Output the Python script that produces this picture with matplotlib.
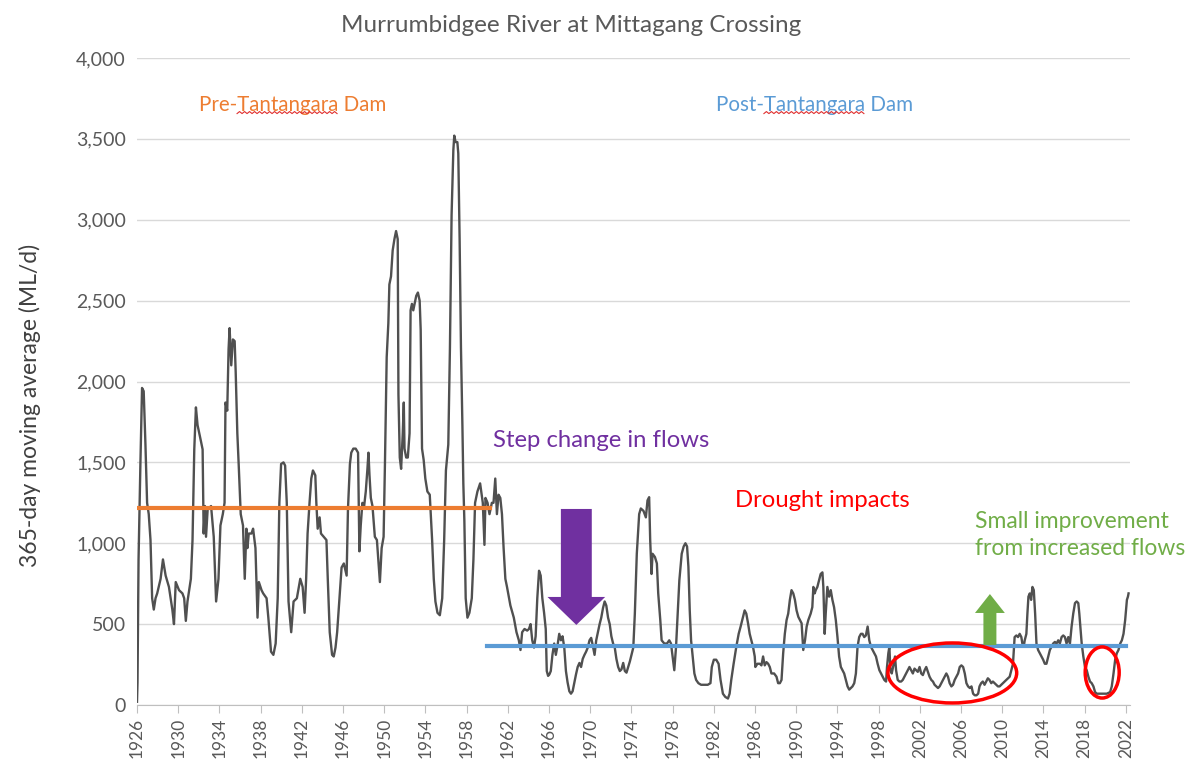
import matplotlib.pyplot as plt
from matplotlib.patches import Ellipse, FancyArrow
from matplotlib.lines import Line2D
from matplotlib.transforms import IdentityTransform
import numpy as np

plt.rcParams['font.family'] = ['Lato', 'DejaVu Sans']

# 365-day moving average flow (ML/d) as (year, value)
flow_1926_1942 = [
    (1926.00, 20), (1926.05, 140), (1926.15, 900), (1926.33, 1490), (1926.49, 1960),
    (1926.65, 1940), (1926.82, 1610), (1926.98, 1250), (1927.14, 1180), (1927.31, 1020),
    (1927.47, 660), (1927.63, 590), (1927.80, 660), (1927.96, 690), (1928.29, 780),
    (1928.52, 900), (1928.78, 800), (1929.10, 730), (1929.43, 590), (1929.59, 500),
    (1929.76, 760), (1930.08, 710), (1930.41, 690), (1930.58, 660), (1930.74, 520),
    (1930.90, 640), (1931.23, 780), (1931.39, 1020), (1931.56, 1580), (1931.72, 1840),
    (1931.88, 1730), (1932.05, 1680), (1932.21, 1630), (1932.37, 1580), (1932.47, 1060),
    (1932.60, 1230), (1932.70, 1040), (1932.86, 1210), (1933.19, 1230), (1933.45, 1040),
    (1933.68, 640), (1933.91, 780), (1934.10, 1110), (1934.33, 1180), (1934.50, 1250),
    (1934.59, 1870), (1934.76, 1820), (1934.89, 2200), (1934.99, 2330), (1935.15, 2100),
    (1935.31, 2260), (1935.48, 2250), (1935.58, 2060), (1935.74, 1680), (1935.87, 1490),
    (1936.07, 1180), (1936.29, 1110), (1936.46, 780), (1936.62, 1090), (1936.72, 970),
    (1936.85, 1060), (1937.11, 1060), (1937.27, 1090), (1937.50, 970), (1937.70, 540),
    (1937.83, 760), (1938.09, 710), (1938.25, 690), (1938.58, 660), (1938.75, 540),
    (1939.01, 330), (1939.24, 310), (1939.46, 380), (1939.66, 660), (1939.82, 1250),
    (1939.99, 1490), (1940.22, 1500), (1940.38, 1480), (1940.54, 1250), (1940.71, 640),
    (1940.97, 450), (1941.20, 640), (1941.52, 660), (1941.85, 780), (1942.08, 730),
    (1942.27, 570),
]

flow_1942_1959 = [
    (1942.42, 780), (1942.56, 1060), (1942.75, 1250), (1942.92, 1400), (1943.08, 1450),
    (1943.31, 1420), (1943.41, 1250), (1943.54, 1090), (1943.73, 1160), (1943.86, 1060),
    (1944.12, 1040), (1944.39, 1020), (1944.52, 780), (1944.71, 450), (1944.94, 310),
    (1945.10, 300), (1945.27, 355), (1945.43, 450), (1945.66, 660), (1945.86, 850),
    (1946.08, 875), (1946.35, 800), (1946.48, 1210), (1946.67, 1490), (1946.80, 1560),
    (1947.00, 1585), (1947.23, 1585), (1947.46, 1560), (1947.59, 950), (1947.72, 1110),
    (1947.88, 1250), (1948.05, 1230), (1948.21, 1320), (1948.37, 1460), (1948.47, 1560),
    (1948.57, 1420), (1948.70, 1280), (1948.86, 1230), (1949.09, 1040), (1949.29, 1020),
    (1949.45, 875), (1949.58, 760), (1949.75, 970), (1949.94, 1040), (1950.07, 1490),
    (1950.24, 2150), (1950.40, 2360), (1950.50, 2600), (1950.66, 2650), (1950.82, 2810),
    (1950.99, 2880), (1951.15, 2930), (1951.31, 2880), (1951.38, 1920), (1951.51, 1530),
    (1951.64, 1460), (1951.80, 1680), (1951.90, 1870), (1951.97, 1585), (1952.13, 1530),
    (1952.29, 1530), (1952.46, 1680), (1952.56, 2440), (1952.69, 2480), (1952.82, 2440),
    (1952.95, 2480), (1953.11, 2530), (1953.27, 2550), (1953.44, 2500), (1953.54, 2320),
    (1953.67, 1585), (1953.83, 1515), (1953.99, 1400), (1954.19, 1320), (1954.42, 1300),
    (1954.65, 1020), (1954.81, 780), (1954.97, 640), (1955.17, 570), (1955.40, 555),
    (1955.63, 660), (1955.82, 1020), (1955.99, 1450), (1956.22, 1610), (1956.38, 2210),
    (1956.54, 3030), (1956.71, 3430), (1956.80, 3520), (1956.93, 3480), (1957.10, 3480),
    (1957.19, 3410), (1957.32, 2880), (1957.45, 2210), (1957.59, 1730), (1957.68, 1370),
    (1957.78, 1140), (1957.91, 660), (1958.08, 540), (1958.27, 570), (1958.50, 660),
    (1958.66, 900), (1958.82, 1250), (1959.05, 1320), (1959.31, 1370),
]

flow_1959_1974 = [
    (1959.57, 1250), (1959.73, 990), (1959.83, 1280), (1960.03, 1250), (1960.22, 1180),
    (1960.45, 1250), (1960.61, 1250), (1960.78, 1400), (1960.94, 1180), (1961.10, 1300),
    (1961.27, 1280), (1961.43, 1180), (1961.59, 970), (1961.76, 780), (1961.92, 730),
    (1962.25, 615), (1962.58, 540), (1962.84, 450), (1963.07, 400), (1963.23, 340),
    (1963.39, 450), (1963.62, 470), (1963.88, 460), (1964.05, 470), (1964.21, 500),
    (1964.37, 400), (1964.54, 355), (1964.70, 425), (1964.86, 660), (1965.03, 830),
    (1965.19, 800), (1965.35, 660), (1965.52, 570), (1965.68, 470), (1965.78, 210),
    (1965.91, 180), (1966.04, 190), (1966.17, 210), (1966.33, 310), (1966.50, 380),
    (1966.66, 310), (1966.82, 367), (1966.99, 440), (1967.15, 400), (1967.31, 425),
    (1967.48, 355), (1967.64, 210), (1967.80, 140), (1967.97, 85), (1968.13, 70),
    (1968.29, 85), (1968.46, 140), (1968.62, 190), (1968.78, 235), (1968.95, 260),
    (1969.11, 235), (1969.27, 285), (1969.44, 310), (1969.60, 330), (1969.76, 355),
    (1969.93, 400), (1970.09, 415), (1970.25, 367), (1970.42, 310), (1970.58, 400),
    (1970.75, 450), (1970.91, 500), (1971.07, 540), (1971.24, 600), (1971.40, 640),
    (1971.56, 615), (1971.73, 540), (1971.89, 500), (1972.05, 425), (1972.22, 380),
    (1972.38, 355), (1972.54, 285), (1972.71, 235), (1972.87, 210), (1973.03, 220),
    (1973.20, 260), (1973.36, 210), (1973.52, 200), (1973.69, 235), (1973.85, 270),
    (1974.01, 310), (1974.18, 355),
]

flow_1974_1991 = [
    (1974.33, 565), (1974.52, 935), (1974.75, 1180), (1974.91, 1215), (1975.17, 1200),
    (1975.40, 1160), (1975.56, 1265), (1975.72, 1285), (1975.82, 1020), (1975.95, 810),
    (1976.05, 935), (1976.28, 915), (1976.47, 875), (1976.60, 690), (1976.80, 525),
    (1976.93, 400), (1977.19, 380), (1977.45, 380), (1977.67, 400), (1977.84, 380),
    (1978.00, 300), (1978.16, 215), (1978.33, 360), (1978.49, 565), (1978.65, 770),
    (1978.88, 935), (1979.07, 980), (1979.24, 1000), (1979.40, 980), (1979.53, 855),
    (1979.66, 585), (1979.79, 400), (1979.95, 300), (1980.11, 195), (1980.28, 155),
    (1980.50, 135), (1980.76, 125), (1981.09, 125), (1981.41, 125), (1981.67, 135),
    (1981.80, 235), (1982.00, 280), (1982.23, 280), (1982.46, 255), (1982.65, 155),
    (1982.88, 70), (1983.11, 50), (1983.37, 40), (1983.53, 70), (1983.69, 155),
    (1983.92, 255), (1984.18, 360), (1984.41, 440), (1984.60, 485), (1984.83, 545),
    (1984.99, 585), (1985.15, 565), (1985.32, 505), (1985.48, 440), (1985.64, 400),
    (1985.80, 360), (1985.97, 300), (1986.03, 235), (1986.23, 255), (1986.46, 255),
    (1986.62, 245), (1986.78, 300), (1986.94, 245), (1987.11, 265), (1987.27, 255),
    (1987.43, 235), (1987.59, 195), (1987.85, 195), (1988.08, 175), (1988.24, 135),
    (1988.41, 135), (1988.57, 155), (1988.73, 320), (1988.89, 440), (1989.06, 525),
    (1989.22, 565), (1989.38, 650), (1989.54, 710), (1989.71, 690), (1989.87, 650),
    (1990.03, 585), (1990.20, 545), (1990.36, 525), (1990.52, 505), (1990.68, 340),
    (1990.85, 400), (1991.01, 485), (1991.17, 525),
]

flow_1991_2007 = [
    (1991.40, 565), (1991.56, 605), (1991.66, 730), (1991.79, 690), (1991.89, 710),
    (1992.05, 730), (1992.21, 770), (1992.37, 810), (1992.54, 820), (1992.63, 730),
    (1992.76, 440), (1992.86, 565), (1993.02, 730), (1993.19, 670), (1993.35, 710),
    (1993.51, 650), (1993.67, 605), (1993.84, 525), (1994.00, 420), (1994.16, 300),
    (1994.33, 235), (1994.49, 215), (1994.65, 195), (1994.81, 155), (1994.98, 115),
    (1995.14, 95), (1995.30, 105), (1995.46, 115), (1995.63, 135), (1995.79, 195),
    (1995.95, 360), (1996.11, 420), (1996.28, 440), (1996.44, 440), (1996.60, 420),
    (1996.76, 430), (1996.93, 485), (1997.09, 400), (1997.25, 360), (1997.41, 340),
    (1997.58, 320), (1997.74, 300), (1997.90, 255), (1998.07, 215), (1998.23, 195),
    (1998.39, 175), (1998.55, 155), (1998.72, 145), (1998.81, 235), (1998.94, 320),
    (1999.04, 360), (1999.14, 215), (1999.27, 195), (1999.46, 255), (1999.59, 300),
    (1999.69, 215), (1999.85, 155), (2000.02, 145), (2000.18, 145), (2000.34, 155),
    (2000.50, 175), (2000.67, 195), (2000.83, 215), (2000.99, 235), (2001.15, 215),
    (2001.32, 195), (2001.48, 225), (2001.64, 215), (2001.80, 205), (2001.97, 235),
    (2002.13, 195), (2002.29, 185), (2002.46, 215), (2002.62, 235), (2002.78, 205),
    (2002.94, 175), (2003.11, 155), (2003.27, 145), (2003.43, 125), (2003.59, 115),
    (2003.76, 105), (2003.92, 115), (2004.08, 135), (2004.24, 155), (2004.41, 175),
    (2004.57, 195), (2004.73, 175), (2004.89, 135), (2005.06, 115), (2005.22, 125),
    (2005.38, 155), (2005.54, 175), (2005.71, 195), (2005.87, 235), (2006.03, 245),
    (2006.20, 235), (2006.36, 195), (2006.52, 135), (2006.68, 115), (2006.85, 105),
    (2007.01, 115), (2007.17, 70), (2007.33, 60), (2007.50, 60), (2007.66, 70),
]

flow_2007_2022 = [
    (2007.79, 115), (2007.95, 135), (2008.11, 145), (2008.28, 125), (2008.44, 145),
    (2008.60, 165), (2008.76, 155), (2008.93, 135), (2009.09, 145), (2009.25, 135),
    (2009.41, 125), (2009.58, 115), (2009.74, 115), (2009.90, 125), (2010.07, 135),
    (2010.39, 155), (2010.72, 175), (2010.88, 215), (2011.04, 255), (2011.14, 360),
    (2011.20, 420), (2011.37, 430), (2011.53, 420), (2011.69, 440), (2011.85, 420),
    (2011.95, 380), (2012.08, 360), (2012.18, 400), (2012.34, 440), (2012.44, 565),
    (2012.54, 670), (2012.67, 690), (2012.80, 650), (2012.93, 730), (2013.06, 710),
    (2013.19, 565), (2013.32, 380), (2013.48, 340), (2013.64, 320), (2013.80, 300),
    (2013.97, 280), (2014.13, 255), (2014.29, 255), (2014.46, 300), (2014.62, 340),
    (2014.78, 360), (2014.94, 380), (2015.11, 390), (2015.27, 380), (2015.43, 400),
    (2015.59, 380), (2015.76, 420), (2015.92, 430), (2016.08, 420), (2016.24, 380),
    (2016.41, 420), (2016.57, 380), (2016.73, 485), (2016.89, 565), (2017.06, 630),
    (2017.22, 640), (2017.38, 630), (2017.48, 565), (2017.61, 460), (2017.71, 380),
    (2017.87, 300), (2018.03, 235), (2018.20, 215), (2018.36, 175), (2018.52, 145),
    (2018.68, 135), (2018.85, 115), (2019.01, 80), (2019.17, 70), (2019.50, 70),
    (2019.82, 70), (2020.15, 70), (2020.47, 80), (2020.63, 115), (2020.80, 195),
    (2020.96, 280), (2021.12, 320), (2021.28, 340), (2021.45, 380), (2021.61, 400),
    (2021.77, 440), (2021.93, 525), (2022.10, 650), (2022.20, 670), (2022.26, 690),
]

# long-term averages before / after Tantangara Dam
pre_dam_period = (1926.0, 1960.27)
pre_dam_mean = 1218
post_dam_period = (1959.98, 2022.0)
post_dam_mean = 367

year_ticks = list(range(1926, 2023, 4))
flow_ticks = list(range(0, 4001, 500))

series = (flow_1926_1942 + flow_1942_1959 + flow_1959_1974
          + flow_1974_1991 + flow_1991_2007 + flow_2007_2022)
years = np.array([p[0] for p in series])
flow = np.array([p[1] for p in series])

ORANGE = '#ED7D31'
BLUE = '#5B9BD5'
PURPLE = '#7030A0'
GREEN = '#70AD47'
RED = '#FF0000'
GREY_TXT = '#595959'

fig = plt.figure(figsize=(11.99, 7.67), dpi=100)
ax = fig.add_axes([137 / 1199, 1 - 705 / 767, 993 / 1199, 647 / 767])

ax.plot(years, flow, color='#505050', lw=1.7, zorder=3)
ax.plot(pre_dam_period, [pre_dam_mean] * 2, color=ORANGE, lw=3, zorder=4)
ax.plot(post_dam_period, [post_dam_mean] * 2, color=BLUE, lw=3, zorder=4)

ax.set_xlim(1926, 2022.4)
ax.set_ylim(0, 4000)
ax.set_xticks(year_ticks)
ax.set_xticklabels([str(y) for y in year_ticks], rotation=90)
ax.set_yticks(flow_ticks)
ax.set_yticklabels([f'{v:,}' for v in flow_ticks])
ax.grid(axis='y', color='#D9D9D9', lw=1)
ax.set_axisbelow(True)
for side in ['top', 'right', 'left']:
    ax.spines[side].set_visible(False)
ax.spines['bottom'].set_color('#BFBFBF')
ax.tick_params(axis='x', colors='#BFBFBF', length=6, labelcolor=GREY_TXT,
               labelsize=12.5, pad=3)
ax.tick_params(axis='y', length=0, labelcolor=GREY_TXT, labelsize=14, pad=8)

fig.text(571 / 1199, 1 - 25 / 767, 'Murrumbidgee River at Mittagang Crossing',
         ha='center', va='center', fontsize=17.5, color=GREY_TXT)
fig.text(30 / 1199, 1 - 405 / 767, '365-day moving average (ML/d)',
         rotation=90, ha='center', va='center', fontsize=16.5, color='#404040')

# annotations
pre_txt = ax.text(1932.0, 3709, 'Pre-Tantangara Dam', color=ORANGE,
                  fontsize=14.8, va='center', ha='left')
post_txt = ax.text(1982.2, 3709, 'Post-Tantangara Dam', color=BLUE,
                   fontsize=14.8, va='center', ha='left')
ax.text(1960.56, 1638, 'Step change in flows', color=PURPLE, fontsize=17.2,
        va='center', ha='left')
ax.text(1984.06, 1267, 'Drought impacts', color=RED, fontsize=17.2,
        va='center', ha='left')
ax.text(2007.36, 1051, 'Small improvement\nfrom increased flows', color=GREEN,
        fontsize=16.5, va='center', ha='left', linespacing=1.35)

ax.add_patch(FancyArrow(1968.65, 1212, 0, -1212 + 495, width=3.0,
                        head_width=5.6, head_length=668 - 495,
                        length_includes_head=True, color=PURPLE, lw=0, zorder=5))
ax.add_patch(FancyArrow(2008.8, 371, 0, 686 - 371, width=1.26,
                        head_width=2.9, head_length=686 - 569,
                        length_includes_head=True, color=GREEN, lw=0, zorder=5))

ax.add_patch(Ellipse((2005.15, 198), 12.5, 371, fill=False, ec=RED, lw=2.5, zorder=6))
ax.add_patch(Ellipse((2019.7, 201), 3.3, 316, fill=False, ec=RED, lw=2.5, zorder=6))


# red spell-check squiggle under "Tantangara"
def squiggle(txt, before, word):
    fig.canvas.draw()
    r = fig.canvas.get_renderer()
    full = txt.get_window_extent(r)
    probe = ax.text(0, 0, before, fontsize=txt.get_fontsize(), alpha=0)
    w0 = probe.get_window_extent(r).width
    probe.set_text(before + word)
    w1 = probe.get_window_extent(r).width
    probe.remove()
    xs = np.arange(full.x0 + w0, full.x0 + w1, 2.5)
    ys = full.y0 + 1.5 + np.where(np.arange(len(xs)) % 2 == 0, 0, 2.0)
    fig.add_artist(Line2D(xs, ys, transform=IdentityTransform(), color='#E03030', lw=0.8))


squiggle(pre_txt, 'Pre-', 'Tantangara')
squiggle(post_txt, 'Post-', 'Tantangara')

fig.savefig('out.png', dpi=100)
